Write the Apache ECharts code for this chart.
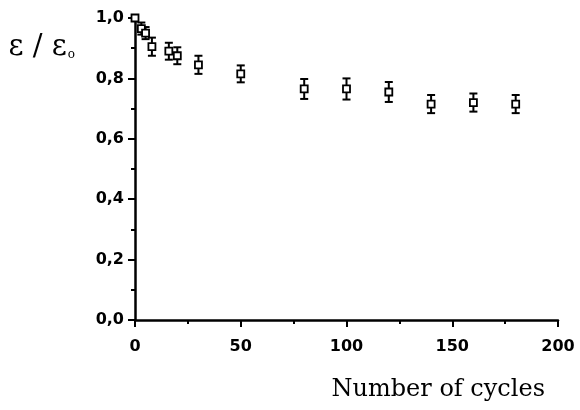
<!DOCTYPE html>
<html>
<head>
<meta charset="utf-8">
<script src="https://cdn.jsdelivr.net/npm/echarts@6/dist/echarts.min.js"></script>
<style>
  html, body { margin: 0; padding: 0; background: #fff; }
  #chart { width: 580px; height: 410px; }
</style>
</head>
<body>
<div id="chart"></div>
<script>
// cycles vs normalised permittivity
const cycles = [0, 3, 5, 8, 16, 20, 30, 50, 80, 100, 120, 140, 160, 180];
const ratio = [1.0, 0.965, 0.95, 0.905, 0.89, 0.875, 0.845, 0.815, 0.765, 0.765, 0.755, 0.715, 0.72, 0.715];
const errors = [0.01, 0.02, 0.02, 0.03, 0.028, 0.028, 0.03, 0.028, 0.033, 0.035, 0.033, 0.03, 0.03, 0.03];
const xTicks = [0, 50, 100, 150, 200];
const yTicks = [0, 0.2, 0.4, 0.6, 0.8, 1.0];

const points = cycles.map((c, i) => [c, ratio[i]]);
const bars = cycles.map((c, i) => [c, ratio[i] - errors[i], ratio[i] + errors[i]]);

const chart = echarts.init(document.getElementById('chart'));

const axisCommon = {
  axisLine: { show: true, lineStyle: { color: '#000', width: 2.5 } },
  axisTick: { show: true, inside: false, length: 7, lineStyle: { color: '#000', width: 2 } },
  minorTick: { show: true, splitNumber: 2, length: 4, lineStyle: { color: '#000', width: 2 } },
  splitLine: { show: false },
  axisLabel: { color: '#000', fontFamily: 'DejaVu Sans', fontSize: 16, fontWeight: 'bold' }
};

chart.setOption({
  animation: false,
  backgroundColor: '#fff',
  grid: { left: 135, right: 22, top: 18, bottom: 90 },
  xAxis: Object.assign({}, axisCommon, {
    type: 'value',
    min: xTicks[0],
    max: xTicks[xTicks.length - 1],
    interval: 50,
    axisLabel: Object.assign({}, axisCommon.axisLabel, { margin: 19 }),
    name: 'Number of cycles',
    nameLocation: 'end',
    nameGap: -13,
    nameTextStyle: {
      fontFamily: 'DejaVu Serif', fontSize: 24, color: '#000',
      align: 'right', verticalAlign: 'top', padding: [58, 0, 0, 0]
    }
  }),
  yAxis: Object.assign({}, axisCommon, {
    type: 'value',
    min: yTicks[0],
    max: yTicks[yTicks.length - 1],
    interval: 0.2,
    axisLabel: Object.assign({}, axisCommon.axisLabel, {
      margin: 11,
      formatter: v => v.toFixed(1).replace('.', ',')
    }),
    name: '{a|ε / ε}{b|o}',
    nameLocation: 'end',
    nameGap: -44,
    nameTextStyle: {
      align: 'right', padding: [0, 60, 0, 0],
      rich: {
        a: { fontFamily: 'DejaVu Serif', fontSize: 29, color: '#000' },
        b: { fontFamily: 'DejaVu Serif', fontSize: 12, color: '#000', padding: [14, 0, 0, 1] }
      }
    }
  }),
  series: [
    {
      type: 'custom',
      data: bars,
      z: 2,
      renderItem: function (params, api) {
        const x = api.value(0);
        const lo = api.coord([x, api.value(1)]);
        const hi = api.coord([x, api.value(2)]);
        const w = 4;
        const style = { stroke: '#000', lineWidth: 2, fill: null };
        return {
          type: 'group',
          children: [
            { type: 'line', shape: { x1: lo[0], y1: lo[1], x2: hi[0], y2: hi[1] }, style: style },
            { type: 'line', shape: { x1: lo[0] - w, y1: lo[1], x2: lo[0] + w, y2: lo[1] }, style: style },
            { type: 'line', shape: { x1: hi[0] - w, y1: hi[1], x2: hi[0] + w, y2: hi[1] }, style: style }
          ]
        };
      }
    },
    {
      type: 'scatter',
      data: points,
      z: 3,
      symbol: 'rect',
      symbolSize: 7,
      itemStyle: { color: '#fff', borderColor: '#000', borderWidth: 1.8, opacity: 1 }
    }
  ]
});
</script>
</body>
</html>
